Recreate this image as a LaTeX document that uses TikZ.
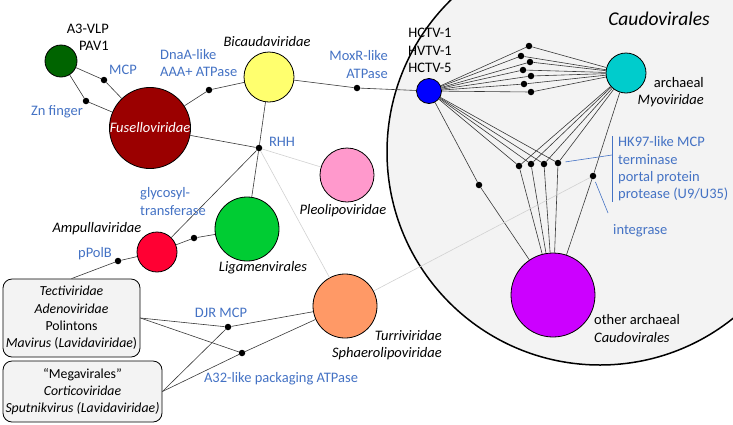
\documentclass[tikz,border=0pt]{standalone}
\usepackage{fontspec}
\setmainfont{Carlito}
\definecolor{genetext}{RGB}{68,114,196}
\definecolor{groupfill}{RGB}{243,243,243}
\definecolor{a3vlp}{RGB}{0,100,0}
\definecolor{fusello}{RGB}{155,0,0}
\definecolor{bicauda}{RGB}{255,255,110}
\definecolor{hctv}{RGB}{0,0,255}
\definecolor{myo}{RGB}{0,204,204}
\definecolor{pleolipo}{RGB}{255,153,204}
\definecolor{ligamen}{RGB}{0,204,51}
\definecolor{ampulla}{RGB}{255,0,51}
\definecolor{turri}{RGB}{255,153,102}
\definecolor{caudo}{RGB}{204,0,255}
\tikzstyle{every node}=[font=\fontsize{14.5}{17.3}\selectfont]
\tikzstyle{virus}=[circle, draw=black, line width=0.8pt, inner sep=0pt]
\tikzstyle{hub}=[circle, fill=black, inner sep=0pt, minimum size=6.5pt]
\tikzstyle{group}=[draw=black, line width=0.8pt, fill=groupfill, rounded corners=9pt, align=center, inner sep=2pt, font=\fontsize{13.8}{17.3}\selectfont]
\tikzstyle{link}=[line width=0.6pt, draw=black!78]
\tikzstyle{faint}=[line width=0.6pt, draw=black!18]
\tikzstyle{callout}=[line width=0.6pt, draw=genetext]
\tikzstyle{lbl}=[inner sep=0pt]
\tikzstyle{gene}=[lbl, text=genetext]

\begin{document}
\begin{tikzpicture}[x=1pt, y=-1pt]
            \useasboundingbox (0,0) rectangle (733,424);
            \begin{scope}
                \clip (0,0) rectangle (733,424);
                \draw[line width=1.5pt, fill=groupfill] (600,152) circle (213pt);
            \end{scope}
            \node[lbl, font=\fontsize{19.5}{22}\selectfont\itshape] (caudotitle) at (659,19) {Caudovirales};

            \node[virus, fill=a3vlp, minimum size=32pt] (a3) at (61,61) {};
            \node[virus, fill=fusello, minimum size=78pt, text=white] (fusello) at (150,128) {\textit{Fuselloviridae}};
            \node[virus, fill=bicauda, minimum size=50pt] (bicauda) at (269,77) {};
            \node[virus, fill=hctv, minimum size=25pt] (hctv) at (429,91) {};
            \node[virus, fill=myo, minimum size=40pt] (myo) at (626,73) {};
            \node[virus, fill=pleolipo, minimum size=54pt] (pleolipo) at (347,175) {};
            \node[virus, fill=ligamen, minimum size=64pt] (ligamen) at (247,229) {};
            \node[virus, fill=ampulla, minimum size=40pt] (ampulla) at (157,252) {};
            \node[virus, fill=turri, minimum size=64pt] (turri) at (345,306) {};
            \node[virus, fill=caudo, minimum size=84pt] (caudo) at (553,295) {};

            \node[group, minimum width=137pt, minimum height=78pt] (tecti) at (71.5,318)
                {\textit{Tectiviridae}\\\textit{Adenoviridae}\\Polintons\\\textit{Mavirus} (\textit{Lavidaviridae})};
            \node[group, minimum width=159pt, minimum height=61pt] (mega) at (82.5,391.5)
                {“Megavirales”\\\textit{Corticoviridae}\\\textit{Sputnikvirus (Lavidaviridae)}};

            \node[hub] (mcp) at (104,80) {};
            \node[hub] (znf) at (86,101) {};
            \node[hub] (dnaa) at (209,90) {};
            \node[hub] (moxr) at (357,88) {};
            \node[hub] (rhh) at (259,148) {};
            \node[hub] (gt) at (194,238) {};
            \node[hub] (ppolb) at (118,261) {};
            \node[hub] (djr) at (228,327) {};
            \node[hub] (a32) at (242,353) {};
            \node[hub] (hx) at (479,185) {};
            \node[hub] (integ) at (593,176) {};
            \foreach \i/\x/\y in {1/529/46, 2/521/56, 3/530/62, 4/523/70, 5/531/76, 6/524/84, 7/531/92}
                \node[hub] (t\i) at (\x,\y) {};
            \foreach \i/\x/\y in {1/519/166, 2/531/164, 3/544/164, 4/558/163}
                \node[hub] (b\i) at (\x,\y) {};

            \draw[link] (a3) -- (mcp) -- (fusello);
            \draw[link] (a3) -- (znf) -- (fusello);
            \draw[link] (fusello) -- (dnaa) -- (bicauda);
            \draw[link] (bicauda) -- (moxr) -- (hctv);
            \draw[link] (fusello) -- (rhh) -- (bicauda);
            \draw[link] (rhh) -- (ligamen);
            \draw[link] (rhh) -- (ampulla);
            \draw[faint] (rhh) -- (pleolipo);
            \draw[faint] (rhh) -- (turri);
            \draw[link] (ampulla) -- (gt) -- (ligamen);
            \draw[link] (tecti.north) -- (ppolb) -- (ampulla);
            \draw[link] (tecti.east) -- (djr) -- (turri);
            \draw[link] (tecti.east) -- (a32) -- (turri);
            \draw[link] (mega.east) -- (djr);
            \draw[link] (mega.east) -- (a32);

            \foreach \i in {1,...,7}
                \draw[link] (hctv) -- (t\i) -- (myo);
            \foreach \i in {1,...,4}
                \draw[link] (hctv) -- (b\i) -- (myo) (b\i) -- (caudo);
            \draw[link] (hctv) -- (hx) -- (caudo);
            \draw[link] (myo) -- (integ) -- (caudo);
            \draw[faint] (turri) -- (integ);

            \coordinate (hktop) at (612,136);
            \coordinate (hkbot) at (612,202);
            \coordinate (hkjoin) at (612,155);
            \coordinate (integtip) at (608,213);
            \draw[callout] (hktop) -- (hkbot);
            \draw[callout, shorten <=4pt] (b4) -- (hkjoin);
            \draw[callout, shorten <=3pt] (integ) -- (integtip);

            \node[lbl, anchor=east, align=right] (a3name) at (109,37.5) {A3-VLP\\PAV1};
            \node[gene] (mcpname) at (123,70) {MCP};
            \node[gene] (znfname) at (57,112) {Zn finger};
            \node[gene, anchor=west, align=left] (dnaaname) at (160,63) {DnaA-like\\AAA+ ATPase};
            \node[lbl] (bicaudaname) at (267,42) {\textit{Bicaudaviridae}};
            \node[gene, anchor=east, align=right] (moxrname) at (388,64.5) {MoxR-like\\ATPase};
            \node[lbl, align=center] (hctvname) at (430,50.5) {HCTV-1\\HVTV-1\\HCTV-5};
            \node[lbl, anchor=east, align=right] (myoname) at (704,92) {archaeal\\\textit{Myoviridae}};
            \node[gene] (rhhname) at (282,142) {RHH};
            \node[lbl] (pleoliponame) at (343,211) {\textit{Pleolipoviridae}};
            \node[gene, anchor=west, align=left] (gtname) at (140,201.5) {glycosyl-\\transferase};
            \node[lbl] (ampullaname) at (97,229) {\textit{Ampullaviridae}};
            \node[gene] (ppolbname) at (95,254) {pPolB};
            \node[lbl] (ligamenname) at (263,268) {\textit{Ligamenvirales}};
            \node[gene] (djrname) at (221,313) {DJR MCP};
            \node[gene] (a32name) at (281,379) {A32-like packaging ATPase};
            \node[lbl, anchor=east, align=right] (turriname) at (442,345) {\textit{Turriviridae}\\\textit{Sphaerolipoviridae}};
            \node[lbl, anchor=west, align=left] (caudoname) at (594,328.5) {other archaeal\\\textit{Caudovirales}};
            \node[gene, anchor=west] (integname) at (613,231) {integrase};
            \node[gene, anchor=west, align=left] (hkname) at (618,169) {HK97-like MCP\\terminase\\portal protein\\protease (U9/U35)};
        \end{tikzpicture}
\end{document}
